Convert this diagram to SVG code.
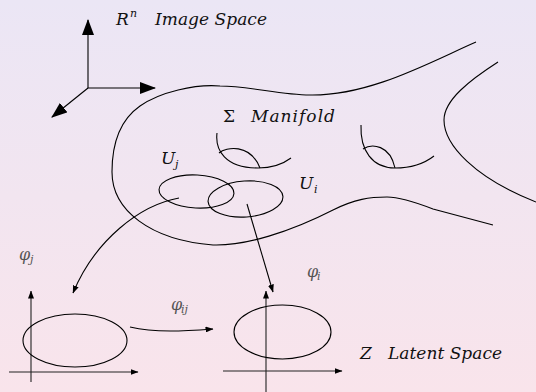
<svg xmlns="http://www.w3.org/2000/svg" width="536" height="392" viewBox="0 0 536 392">
<defs>
<linearGradient id="bg" x1="0" y1="0" x2="0" y2="1">
<stop offset="0" stop-color="#ebe6f5"/>
<stop offset="1" stop-color="#f9e4eb"/>
</linearGradient>
<marker id="big" markerUnits="userSpaceOnUse" markerWidth="16" markerHeight="12" refX="15" refY="6" orient="auto">
<path d="M0,0 L16,6 L0,12 z" fill="#000"/>
</marker>
<marker id="small" markerUnits="userSpaceOnUse" markerWidth="8" markerHeight="6" refX="7.5" refY="3" orient="auto">
<path d="M0,0 L8,3 L0,6 z" fill="#000"/>
</marker>
</defs>
<style>
.ln{fill:none;stroke:#000;stroke-width:1.1}
.ax{fill:none;stroke:#222;stroke-width:1.1}
text{font-family:'DejaVu Serif','Liberation Serif',serif}
.t{font-style:italic;font-size:17px;fill:#111}
.up{font-size:17px;fill:#111}
.s{font-style:italic;font-size:11px;fill:#111}
.p{font-style:italic;font-size:16px;fill:#555}
.ps{font-style:italic;font-size:11px;fill:#555}
</style>
<rect width="536" height="392" fill="url(#bg)"/>

<g id="image-space">
<path class="ln" d="M88,88 L88,20" marker-end="url(#big)"/>
<path class="ln" d="M88,88 L155,88" marker-end="url(#big)"/>
<path class="ln" d="M88,88 L52,117" marker-end="url(#big)"/>
<text class="t" x="116" y="25">R</text>
<text class="s" x="130" y="17">n</text>
<text class="t" x="155" y="25" textLength="112" lengthAdjust="spacing">Image Space</text>
</g>

<g id="manifold">
<path class="ln" d="M476,42 C430,62 370,96 310,95 C280,95 250,86 220,86 C195,84 160,92 140,106 C120,120 112,145 112,172 C112,210 150,240 213,245 C245,246 290,232 333,210 C355,199 370,197 387,197 C400,197 415,202 433,209 L493,225"/>
<path class="ln" d="M498,62 C470,80 444,100 444,120 C444,145 475,178 536,202"/>
<path class="ln" d="M217,133 C215,150 225,168 258,168 C272,168 283,164 291,158"/>
<path class="ln" d="M219,153 C226,147 250,143 260,168"/>
<path class="ln" d="M361,125 C360,150 372,168 395,168 C412,168 425,163 434,156"/>
<path class="ln" d="M363,149 C372,143 390,145 395,168"/>
<text class="up" x="223" y="122">Σ</text>
<text class="t" x="251" y="122" textLength="84" lengthAdjust="spacing">Manifold</text>
</g>

<g id="Uj">
<ellipse class="ln" cx="196.5" cy="191.5" rx="37.5" ry="16.5" transform="rotate(3 196.5 191.5)"/>
<text class="t" x="161" y="164">U</text>
<text class="s" x="175" y="168">j</text>
</g>

<g id="Ui">
<ellipse class="ln" cx="245.5" cy="199" rx="37.5" ry="18" transform="rotate(-4 245.5 199)"/>
<text class="t" x="299" y="189">U</text>
<text class="s" x="314" y="193">i</text>
</g>

<g id="chart-j">
<path class="ax" d="M31,382 L31,291" marker-end="url(#small)"/>
<path class="ax" d="M9,372 L138,372" marker-end="url(#small)"/>
<ellipse class="ln" cx="75" cy="340.5" rx="52" ry="26.5"/>
</g>

<g id="chart-i">
<path class="ax" d="M266,392 L266,291" marker-end="url(#small)"/>
<path class="ax" d="M223,371 L342,371" marker-end="url(#small)"/>
<ellipse class="ln" cx="282.5" cy="332" rx="48.5" ry="27"/>
<text class="t" x="360" y="359">Z</text>
<text class="t" x="388" y="359" textLength="114" lengthAdjust="spacing">Latent Space</text>
</g>

<g id="connectors">
<path class="ln" d="M179,198 C140,205 95,240 73,293" marker-end="url(#small)"/>
<path class="ln" d="M247,204 L273,292" marker-end="url(#small)"/>
<path class="ln" d="M130,327 C155,333 185,331 213,329" marker-end="url(#small)"/>
<text class="p" x="19" y="260">φ</text>
<text class="ps" x="30" y="263">j</text>
<text class="p" x="171" y="310">φ</text>
<text class="ps" x="181" y="313">ij</text>
<text class="p" x="307" y="277">φ</text>
<text class="ps" x="317" y="280">i</text>
</g>
</svg>
